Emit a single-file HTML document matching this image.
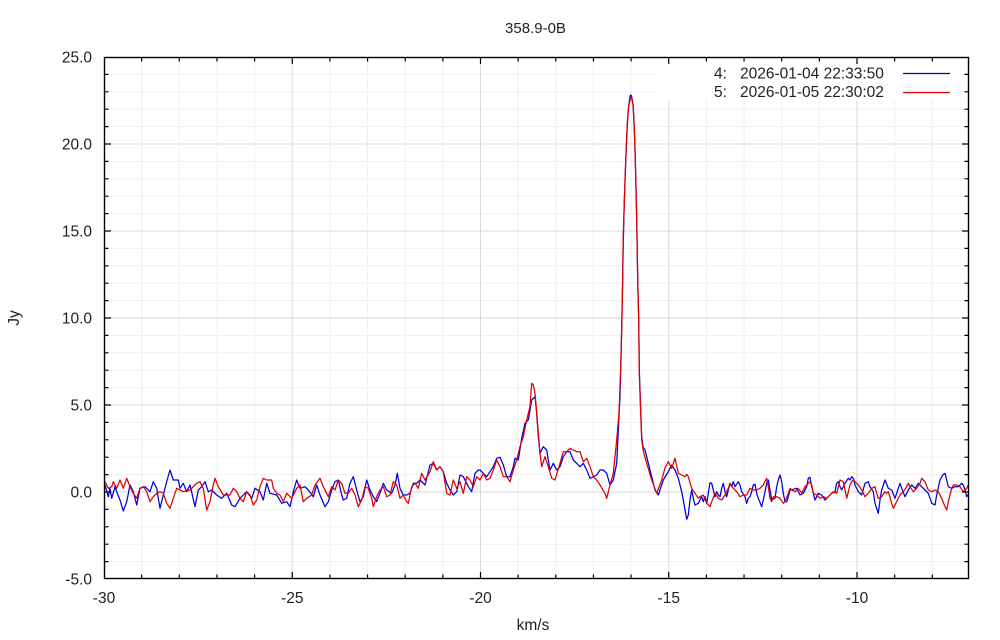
<!DOCTYPE html>
<html><head><meta charset="utf-8"><style>
html,body{margin:0;padding:0;background:#fff;}
svg{display:block;}
text{font-family:"Liberation Sans",Arial,sans-serif;fill:#222;}
</style></head><body>
<svg width="1000" height="640" viewBox="0 0 1000 640" xmlns="http://www.w3.org/2000/svg">
<rect x="0" y="0" width="1000" height="640" fill="#fff"/>
<!-- minor grid -->
<g stroke="#efefef" stroke-width="1">
<path d="M141.65 57V579M179.3 57V579M216.95 57V579M254.6 57V579M329.9 57V579M367.55 57V579M405.2 57V579M442.85 57V579M518.15 57V579M555.8 57V579M593.45 57V579M631.1 57V579M706.4 57V579M744.05 57V579M781.7 57V579M819.35 57V579M894.65 57V579M932.3 57V579"/>
<path d="M104 74.4H969M104 91.8H969M104 109.2H969M104 126.6H969M104 161.4H969M104 178.8H969M104 196.2H969M104 213.6H969M104 248.4H969M104 265.8H969M104 283.2H969M104 300.6H969M104 335.4H969M104 352.8H969M104 370.2H969M104 387.6H969M104 422.4H969M104 439.8H969M104 457.2H969M104 474.6H969M104 509.4H969M104 526.8H969M104 544.2H969M104 561.6H969"/>
</g>
<!-- major grid -->
<g stroke="#d9d9d9" stroke-width="1">
<path d="M292.25 57V579M480.5 57V579M668.75 57V579M857 57V579"/>
<path d="M104 144H969M104 231H969M104 318H969M104 405H969M104 492H969"/>
</g>
<!-- legend box -->
<rect x="654" y="58" width="306" height="42" fill="#fff"/>
<!-- blue series -->
<polyline fill="none" stroke="#0000dd" stroke-width="1.25" stroke-linejoin="round" points="
105,485 108.3,496.7 110,488.3 111.7,498.3 115,486.7 116.7,491.7 120,500 123.3,511 126.7,501.7 130,485 133.3,491.7 136.7,505 140,488.3 145,486.7 150,491.7 153.3,481.7 156.7,488.3 160,508.3 163.3,495 166.7,481.7 170,470 173.3,480 178.3,480 180,488.3 183.3,483.3 186.7,491.7 190,485 195,506.7 198.3,490 201.7,486.7 205,481.7 208.3,491.7 211.7,490 216.7,495 221.7,498.3 226.7,493.3 231.7,505 235,506.7 240,498.3 246.7,491.7 251.7,498.3 255,488.3 260,491.7 263.3,500 266.7,483.3 270,493.3 276.7,495 281.7,503.3 286.7,501.7 290,506.7 293.3,491.7 296.7,480 300,488.3 305,486.7 308.3,490 313.3,496.7 316.7,485 320,495
325,506.7 328.3,501.7 331.7,490 335,481.7 338.3,480 341.7,495 343.3,500 346.7,498.3 350,483.3 353.3,476.7 356.7,490 360,501.7 363.3,496.7 366.7,480 370,490 373.3,496.7 376.7,501.7 380,493.3 383.3,483.3 386.7,490 391.7,493.3 395,485 397.3,473.3 400,488.3 403.3,495 406.7,495 410,493.3 413.3,483.3 416.7,483.3 420,480 425,485 430,465 433.3,463.3 436.7,470 440,466.7 443.3,471.7 446.7,483.3 450,490 453.3,495 456.7,491.7 460,475 463.3,476.7 468.3,486.7 471.7,491.7 475,473.3 478.3,470
480,470 483.3,473.3 486.7,476.7 490,471.7 493.3,466.7 496.7,458.3 500,457.3 503.3,465 506.7,476.7 510,476.7 513.3,466.7 515,458.3 518.3,460 521.7,438.3 525,423.3 528.3,420 531.7,400 535,396.7 536.7,413.3 538.3,436.7 540,453.3 543.3,446.7 546.7,450 550,470 553.3,463.3 556.7,470 560,466.7 563.3,456.7 566.7,451.7 570,451.7 573.3,460 576.7,463.3 580,466.7 583.3,463.3 586.7,470 590,478.3 593.3,476.7 596.7,475 600,470 603.3,470 606.7,473.3 610,485 613.3,480 616.7,463.3
618.3,430 620,396.7 621.2,350 622.2,305 623,255 624.2,205 625.5,168 626.7,138 628,113 629.5,100 630.5,95 631.5,96 633,104 634.3,128 635.3,158 636,188 636.7,218 637.7,278 638.7,318 639.3,370 640.7,410 641.7,437 643,447 645,450 646.7,456.7 650,470 655,490 658.3,495 663.3,480 668.3,471.7 671.7,465 675,470 678.3,478.3
681.7,491.7 683.3,500 685,510 686.7,519.3 688.3,515 690,500 691.7,490 693.3,498.3 695,505 698.3,503.3 700,500 701.7,496.7 703.3,501.7 705,496.7 706.7,503.3 708.3,493.3 710,482.7 711.7,483.3 713.3,490 715,496.7 716.7,491.7 718.3,495 720,496.7 721.7,488.3 723.3,483.3 725,491.7 726.7,496.7 728.3,490 730,483.3 731.7,486.7 733.3,481.7 735,486.7 738.3,481.7 740,485 741.7,491.7 745,496.7 746.7,503.3 748.3,498.3 750,496.7 751.7,491.7 753.3,485 755,484.3 756.7,493.3 758.3,498.3 761.7,506.7 763.3,500 765,491.7 766.7,483.3 768.3,480 770,490 771.7,500 775,498.3 776.7,486.7 778.3,480 780,475 781.7,481.7 783.3,493.3 785,501.7 786.7,501.7 788.3,496.7 790,490 793.3,489.3 796.7,488.3 800,495 803.3,493.3 806.7,486.7 808.3,478.3 810,477.3 811.7,486.7 815,500 816.7,496.7 818.3,493.3 821.7,495
825,500 828.3,496.7 831.7,493.3 835,491.7 836.7,483.3 838.3,481.7 840,486.7 841.7,490 845,483.3 848.3,478.3 850,480 851.7,476.7 853.3,478.3 855,485 858.3,491.7 861.7,495 865,483.3 868.3,481.7 870,486.7 873.3,491.7 875,503.3 878.3,513.3 880,500 881.7,490 885,480 888.3,488.3 891.7,490 895,498.3 898.3,488.3 900,483.3 901.7,488.3 905,496.7 908.3,490 911.7,485 915,488.3 918.3,483.3 921.7,486.7 925,490 928.3,493.3 931.7,503.3 935,505 936.7,495 940,480 942.7,475 945,473.3 946.7,480 948.3,486.7 951.7,488.3 955,486.7 958.3,486.7 961.7,483.3 963.3,485 965,490 966.7,496.7 969,493.3"/>
<!-- red series -->
<polyline fill="none" stroke="#dd0000" stroke-width="1.25" stroke-linejoin="round" points="
105,481.7 108.3,488.3 111.7,486.7 113.3,481.7 116.7,488.3 120,480 123.3,488.3 126.7,478.3 130,486.7 133.3,493.3 136.7,498.3 140,488.3 143.3,486.7 146.7,491.7 150,501.7 153.3,496.7 156.7,493.3 160,491.7 163.3,493.3 166.7,503.3 170,508.3 173.3,498.3 176.7,488.3 183.3,491.7 190,490 196.7,483.3 200,481.7 203.3,488.3 206.7,510 210,501.7 213.3,485 215,478.3 218.3,486.7 223.3,495 230,495 233.3,488.3 236.7,491.7 240,498.3 243.3,501.7 246.7,491.7 250,495 253.3,505 256.7,500 260,486.7 263.3,478.3 266.7,480 271.7,480 273.3,488.3 276.7,493.3 280,495 283.3,501.7 286.7,493.3 291.7,498.3 296.7,488.3 300,485 303.3,501.7 306.7,498.3 311.7,495 315,485 320,478.3
323.3,486.7 328.3,496.7 331.7,486.7 335,490 338.3,480 341.7,483.3 345,493.3 348.3,493.3 351.7,488.3 355,495 358.3,506.7 361.7,500 365,486.7 368.3,488.3 371.7,498.3 373.3,506.7 376.7,496.7 380,490 383.3,486.7 386.7,496.7 390,495 393.3,481.7 396.7,485 400,498.3 403.3,495 406.7,501.7 408.3,503.3 411.7,486.7 415,483.3 418.3,488.3 421.7,473.3 425,480 430,471.7 433.3,461.7 436.7,470 440,466.7 443.3,471.7 446.7,493.3 450,495 453.3,480 456.7,488.3 460,481.7 463.3,493.3 466.7,476.7 470,480 473.3,486.7 476.7,476.7
480,480 483.3,473.3 486.7,480 490,478.3 493.3,470 496.7,460 500,466.7 503.3,476.7 506.7,476.7 510,481.7 513.3,470 516.7,460 520,446.7 523.3,436.7 526.7,420 530,406.7 531.7,383.3 533.3,385 535,393.3 536.7,413.3 540,453.3 541.7,466.7 545,456.7 548.3,466.7 551.7,478.3 555,480 560,463.3 563.3,451.7 566.7,451.7 570,448.3 573.3,450 576.7,451.7 580,451.7 583.3,461.7 586.7,458.3 590,466.7 593.3,476.7 596.7,480 600,485 605,493.3 606.7,498.3 610,485 613.3,473.3 616.7,440
619,413.3 620.7,366.7 621.7,328.3 622.7,281.7 623.3,233.3 625,180 626,153 627.3,123.3 628.7,105 630.5,99 631.7,97.3 633.3,106.7 634.3,130 635.3,160 636,190 636.7,220 637.7,280 638.7,320 639.3,373.3 640.7,413.3 641.7,440 643.5,452 646.7,463.3 651.7,480 656.7,493.3 661.7,480 665,468 668.3,461.7 671.7,468.3 675,458.3 678.3,473.3 681.7,475 685,476.7 686.7,474.3 688.3,476.7
691.7,488.3 695,493.3 698.3,498.3 700,496.7 703.3,495 706.7,503.3 710,506.7 711.7,501.7 715,493.3 718.3,498.3 721.7,500 725,495 728.3,488.3 730,483.3 733.3,488.3 736.7,491.7 740,496.7 743.3,495 746.7,495 750,488.3 753.3,490 756.7,490 760,488.3 763.3,485 766.7,478.3 768.3,486.7 770,498.3 771.7,501.7 773.3,496.7 776.7,496.7 780,498.3 783.3,503.3 785,501.7 788.3,493.3 790,488.3 791.7,490 795,491.7 798.3,488.3 801.7,493.3 803.3,490 805,486.7 808.3,483.3 810,481.7 811.7,485 813.3,493.3 816.7,495 820,498.3
823.3,496.7 826.7,498.3 830,495 833.3,491.7 836.7,493.3 840,480 843.3,481.7 846.7,498.3 850,485 851.7,481.7 853.3,480 855,481.7 858.3,485 861.7,490 865,496.7 868.3,493.3 871.7,488.3 875,486.7 876.7,493.3 878.3,498.3 881.7,496.7 885,491.7 886.7,493.3 888.3,491.7 891.7,503.3 893.3,508.3 896.7,501.7 900,495 903.3,491.7 906.7,486.7 908.3,483.3 910,486.7 913.3,491.7 916.7,488.3 920,483.3 921.7,478.3 925,481.7 928.3,490 931.7,491.7 935,490 938.3,491.7 941.7,498.3 945,506.7 946.7,510 948.3,501.7 951.7,488.3 953.3,485 956.7,485 960,486.7 963.3,491.7 966.7,488.3 968.3,485"/>
<!-- frame -->
<rect x="104.5" y="57.5" width="864" height="521" fill="none" stroke="#000" stroke-width="1.4"/>
<!-- ticks -->
<g stroke="#000" stroke-width="1.2">
<!-- bottom minor -->
<path d="M141.65 579v-4.5M179.3 579v-4.5M216.95 579v-4.5M254.6 579v-4.5M329.9 579v-4.5M367.55 579v-4.5M405.2 579v-4.5M442.85 579v-4.5M518.15 579v-4.5M555.8 579v-4.5M593.45 579v-4.5M631.1 579v-4.5M706.4 579v-4.5M744.05 579v-4.5M781.7 579v-4.5M819.35 579v-4.5M894.65 579v-4.5M932.3 579v-4.5"/>
<path d="M292.25 579v-7M480.5 579v-7M668.75 579v-7M857 579v-7"/>
<!-- top -->
<path d="M141.65 57v4.5M179.3 57v4.5M216.95 57v4.5M254.6 57v4.5M329.9 57v4.5M367.55 57v4.5M405.2 57v4.5M442.85 57v4.5M518.15 57v4.5M555.8 57v4.5M593.45 57v4.5M631.1 57v4.5M706.4 57v4.5M744.05 57v4.5M781.7 57v4.5M819.35 57v4.5M894.65 57v4.5M932.3 57v4.5"/>
<path d="M292.25 57v7M480.5 57v7M668.75 57v7M857 57v7"/>
<!-- left -->
<path d="M104 74.4h4.5M104 91.8h4.5M104 109.2h4.5M104 126.6h4.5M104 161.4h4.5M104 178.8h4.5M104 196.2h4.5M104 213.6h4.5M104 248.4h4.5M104 265.8h4.5M104 283.2h4.5M104 300.6h4.5M104 335.4h4.5M104 352.8h4.5M104 370.2h4.5M104 387.6h4.5M104 422.4h4.5M104 439.8h4.5M104 457.2h4.5M104 474.6h4.5M104 509.4h4.5M104 526.8h4.5M104 544.2h4.5M104 561.6h4.5"/>
<path d="M104 144h7M104 231h7M104 318h7M104 405h7M104 492h7"/>
<!-- right -->
<path d="M969 74.4h-4.5M969 91.8h-4.5M969 109.2h-4.5M969 126.6h-4.5M969 161.4h-4.5M969 178.8h-4.5M969 196.2h-4.5M969 213.6h-4.5M969 248.4h-4.5M969 265.8h-4.5M969 283.2h-4.5M969 300.6h-4.5M969 335.4h-4.5M969 352.8h-4.5M969 370.2h-4.5M969 387.6h-4.5M969 422.4h-4.5M969 439.8h-4.5M969 457.2h-4.5M969 474.6h-4.5M969 509.4h-4.5M969 526.8h-4.5M969 544.2h-4.5M969 561.6h-4.5"/>
<path d="M969 144h-7M969 231h-7M969 318h-7M969 405h-7M969 492h-7"/>
</g>
<!-- title -->
<text x="535.5" y="33" font-size="15" text-anchor="middle">358.9-0B</text>
<!-- y tick labels -->
<g font-size="15.5" text-anchor="end">
<text x="92" y="62.5">25.0</text>
<text x="92" y="149.5">20.0</text>
<text x="92" y="236.5">15.0</text>
<text x="92" y="323.5">10.0</text>
<text x="92" y="410.5">5.0</text>
<text x="92" y="497.5">0.0</text>
<text x="92" y="584.5">-5.0</text>
</g>
<!-- x tick labels -->
<g font-size="15.5" text-anchor="middle">
<text x="104" y="603">-30</text>
<text x="292.25" y="603">-25</text>
<text x="480.5" y="603">-20</text>
<text x="668.75" y="603">-15</text>
<text x="857" y="603">-10</text>
</g>
<!-- axis labels -->
<text x="533" y="630" font-size="15.5" text-anchor="middle">km/s</text>
<text x="0" y="0" font-size="15.5" text-anchor="middle" transform="translate(19,318) rotate(-90)">Jy</text>
<!-- legend -->
<g font-size="15.5">
<text x="714" y="78.5">4:</text>
<text x="740" y="78.5">2026-01-04 22:33:50</text>
<text x="714" y="97">5:</text>
<text x="740" y="97">2026-01-05 22:30:02</text>
</g>
<path d="M903 73.5H950" stroke="#0000b0" stroke-width="1.3"/>
<path d="M903 92.5H950" stroke="#dd0000" stroke-width="1.3"/>
</svg>
</body></html>
